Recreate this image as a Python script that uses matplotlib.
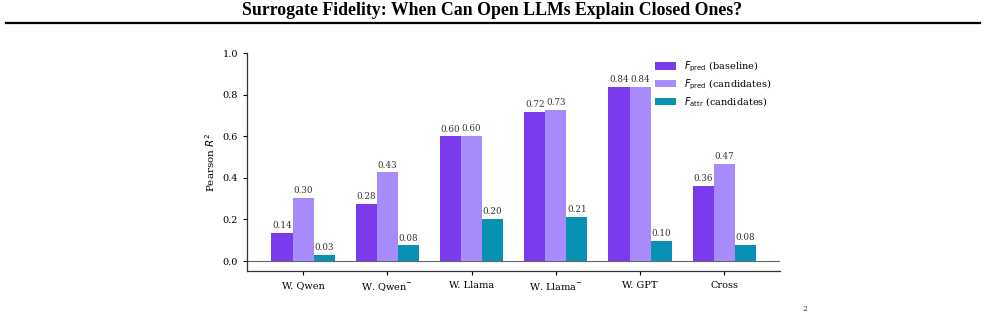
import matplotlib
matplotlib.use('Agg')
import matplotlib.pyplot as plt
import numpy as np
from matplotlib.lines import Line2D

plt.rcParams['font.family'] = ['DejaVu Serif']
plt.rcParams['mathtext.fontset'] = 'dejavusans'

# ========== data ==========
models = ['W. Qwen', 'W. Qwen$^{-}$', 'W. Llama', 'W. Llama$^{-}$', 'W. GPT', 'Cross']
pred_baseline = [0.137, 0.275, 0.599, 0.718, 0.838, 0.362]
pred_candidates = [0.304, 0.428, 0.602, 0.727, 0.838, 0.468]
attr_candidates = [0.030, 0.077, 0.203, 0.213, 0.097, 0.078]
series_labels = [r'$F_{\mathrm{pred}}$ (baseline)',
                 r'$F_{\mathrm{pred}}$ (candidates)',
                 r'$F_{\mathrm{attr}}$ (candidates)']
colors = ['#7C3AED', '#A78BFA', '#0891B2']

# ========== plot ==========
fig = plt.figure(figsize=(9.85, 3.12), dpi=100)
ax = fig.add_axes([0.251, 0.130, 0.541, 0.700])

x = np.arange(len(models))
w = 0.25
for i, vals in enumerate([pred_baseline, pred_candidates, attr_candidates]):
    bars = ax.bar(x + (i - 1) * w, vals, w, color=colors[i], label=series_labels[i])
    for b, v in zip(bars, vals):
        ax.text(b.get_x() + b.get_width() / 2, v + 0.012, f'{v:.2f}',
                ha='center', va='bottom', fontsize=6.3, color='#333333')

ax.axhline(0, color='#666666', lw=0.8, zorder=0)
ax.set_ylim(-0.05, 1.0)
ax.set_yticks(np.arange(0, 1.01, 0.2))
ax.set_xticks(x)
ax.set_xticklabels(models, fontsize=7)
ax.tick_params(axis='y', labelsize=7, length=3)
ax.tick_params(axis='x', length=3, pad=4)
ax.set_ylabel('Pearson $R^2$', fontsize=7.5)
for s in ['top', 'right']:
    ax.spines[s].set_visible(False)
for s in ['left', 'bottom']:
    ax.spines[s].set_color('#333333')
    ax.spines[s].set_linewidth(0.9)

ax.legend(loc='upper right', frameon=False, fontsize=7, handlelength=2.2,
          handleheight=0.8, labelspacing=0.35, bbox_to_anchor=(1.0, 1.01))

# title and rule
fig.text(0.5, 0.967, 'Surrogate Fidelity: When Can Open LLMs Explain Closed Ones?',
         ha='center', va='center', fontsize=12.8, fontweight='bold',
         family='Liberation Serif')
fig.add_artist(Line2D([0.006, 0.995], [0.926, 0.926], color='black', lw=1.6,
                      transform=fig.transFigure))
fig.text(0.817, 0.022, '2', fontsize=5.5, ha='center', va='top', color='#333333')

fig.savefig('out.png', dpi=100)
